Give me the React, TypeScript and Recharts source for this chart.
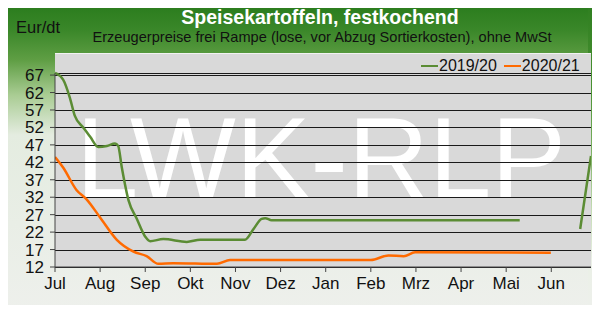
import React from 'react';
import { LineChart, Line, XAxis, YAxis, CartesianGrid, Legend } from 'recharts';

const monthLabels = ['Jul', 'Aug', 'Sep', 'Okt', 'Nov', 'Dez', 'Jan', 'Feb', 'Mrz', 'Apr', 'Mai', 'Jun'];
const monthTicks = [0, 1, 2, 3, 4, 5, 6, 7, 8, 9, 10, 11];
const yTicks = [12, 17, 22, 27, 32, 37, 42, 47, 52, 57, 62, 67];

// x in months since 1 July
const greenX = [0, 0.18, 0.33, 0.44, 0.63, 0.78, 0.96, 1.15, 1.33, 1.4, 1.48, 1.63, 1.81, 2.0, 2.11, 2.4, 2.92, 3.22, 4.21, 4.4, 4.58, 4.66, 4.8, 10.3, 11.0, 11.64, 11.88];
const greenY: (number | null)[] = [67.6, 65.7, 60.5, 55.3, 51.9, 49.3, 46.4, 46.7, 47.4, 46.7, 40.6, 31.1, 25.9, 20.7, 19.4, 20.0, 19.2, 19.8, 19.8, 22.9, 25.8, 26.0, 25.4, 25.4, null, 22.9, 43.8];

const orangeX = [0, 0.18, 0.48, 0.7, 1.0, 1.37, 1.74, 2.03, 2.29, 2.62, 3.59, 3.88, 7.0, 7.39, 7.73, 7.98, 10.99];
const orangeY = [43.5, 40.5, 34.0, 31.4, 26.2, 19.8, 16.4, 15.1, 12.9, 13.1, 12.9, 14.0, 14.0, 15.3, 15.1, 16.2, 16.1];

const greenData = greenX.map((m, i) => ({ m, v: greenY[i] }));
const orangeData = orangeX.map((m, i) => ({ m, v: orangeY[i] }));

const FONT = '"Liberation Sans", Arial, sans-serif';

const LegendContent = () => (
  <div style={{ fontFamily: FONT, fontSize: 16, color: '#111', display: 'flex', alignItems: 'center', whiteSpace: 'nowrap' }}>
    <span style={{ display: 'inline-block', width: 17, height: 2, background: '#5b8c34', marginRight: 1 }} />
    <span>2019/20</span>
    <span style={{ display: 'inline-block', width: 17, height: 2, background: '#ff6a00', marginLeft: 7, marginRight: 1 }} />
    <span>2020/21</span>
  </div>
);

const gridLine = (p: any) => (
  <line
    key={`h-${p.index}-${p.y1}`}
    x1={p.x1}
    y1={Math.round(p.y1) + 0.5}
    x2={p.x2}
    y2={Math.round(p.y2) + 0.5}
    stroke="#1a1a1a"
    strokeWidth={1}
    shapeRendering="crispEdges"
  />
);

export default function App() {
  return (
    <div style={{ position: 'relative', width: 600, height: 313, margin: -8, fontFamily: FONT, overflow: 'hidden' }}>
      <div style={{ position: 'absolute', inset: 0, background: 'linear-gradient(to bottom, #277a1b 0px, #3a8729 30px, #5f9e44 60px, #a9cc93 95px, #e4ece0 135px, #eef0ec 313px)' }} />
      <div style={{ position: 'absolute', left: 588, top: 0, width: 12, height: 313, background: 'linear-gradient(to bottom, #2e7e20 0px, #4a9232 90px, #7bb061 150px, #c4dcb4 210px, #eaf0e6 260px, #eef0ec 313px)' }} />
      <div style={{ position: 'absolute', inset: 0, border: '1px solid #4e8a36', boxSizing: 'border-box' }} />
      <div style={{ position: 'absolute', left: 55, top: 53, width: 536, height: 214, background: '#d9d9d9', borderTop: '1px solid #f2f2f2', boxSizing: 'border-box' }} />
      <svg style={{ position: 'absolute', left: 0, top: 0 }} width={600} height={313}>
        <text x={321} y={198} textAnchor="middle" fontFamily={FONT} fontSize={115} fill="#ffffff" textLength={490} lengthAdjust="spacingAndGlyphs">LWK-RLP</text>
        <text x={320} y={24} textAnchor="middle" fontFamily={FONT} fontSize={19.5} fontWeight="bold" fill="#ffffff">Speisekartoffeln, festkochend</text>
        <text x={322} y={42} textAnchor="middle" fontFamily={FONT} fontSize={14.6} fill="#111">Erzeugerpreise frei Rampe (lose, vor Abzug Sortierkosten), ohne MwSt</text>
        <text x={16} y={33} fontFamily={FONT} fontSize={16.5} fill="#111">Eur/dt</text>
      </svg>
      <div style={{ position: 'absolute', left: 0, top: 0 }}>
        <LineChart width={600} height={313} margin={{ top: 55, right: 9, left: 0, bottom: 0 }} style={{ fontFamily: FONT }}>
          <CartesianGrid horizontal={gridLine} vertical={false} stroke="#1a1a1a" fill="none" />
          <XAxis
            dataKey="m"
            type="number"
            domain={[0, 11.88]}
            ticks={monthTicks}
            tickFormatter={(v: number) => monthLabels[v]}
            allowDataOverflow
            height={46}
            tickSize={5}
            tickMargin={5}
            stroke="#444"
            tick={{ fill: '#111', fontSize: 17 }}
            interval={0}
          />
          <YAxis
            type="number"
            domain={[12, 67]}
            ticks={yTicks}
            width={55}
            tickSize={5}
            tickMargin={6}
            stroke="#444"
            tick={{ fill: '#111', fontSize: 17 }}
            interval={0}
          />
          <Legend
            verticalAlign="top"
            align="right"
            content={LegendContent}
            wrapperStyle={{ position: 'absolute', top: 57, left: 421, width: 172 }}
          />
          <Line data={greenData} dataKey="v" type="monotone" stroke="#5b8c34" strokeWidth={2.5} dot={false} connectNulls={false} isAnimationActive={false} />
          <Line data={orangeData} dataKey="v" type="monotone" stroke="#ff6a00" strokeWidth={2.5} dot={false} isAnimationActive={false} />
        </LineChart>
      </div>
    </div>
  );
}
